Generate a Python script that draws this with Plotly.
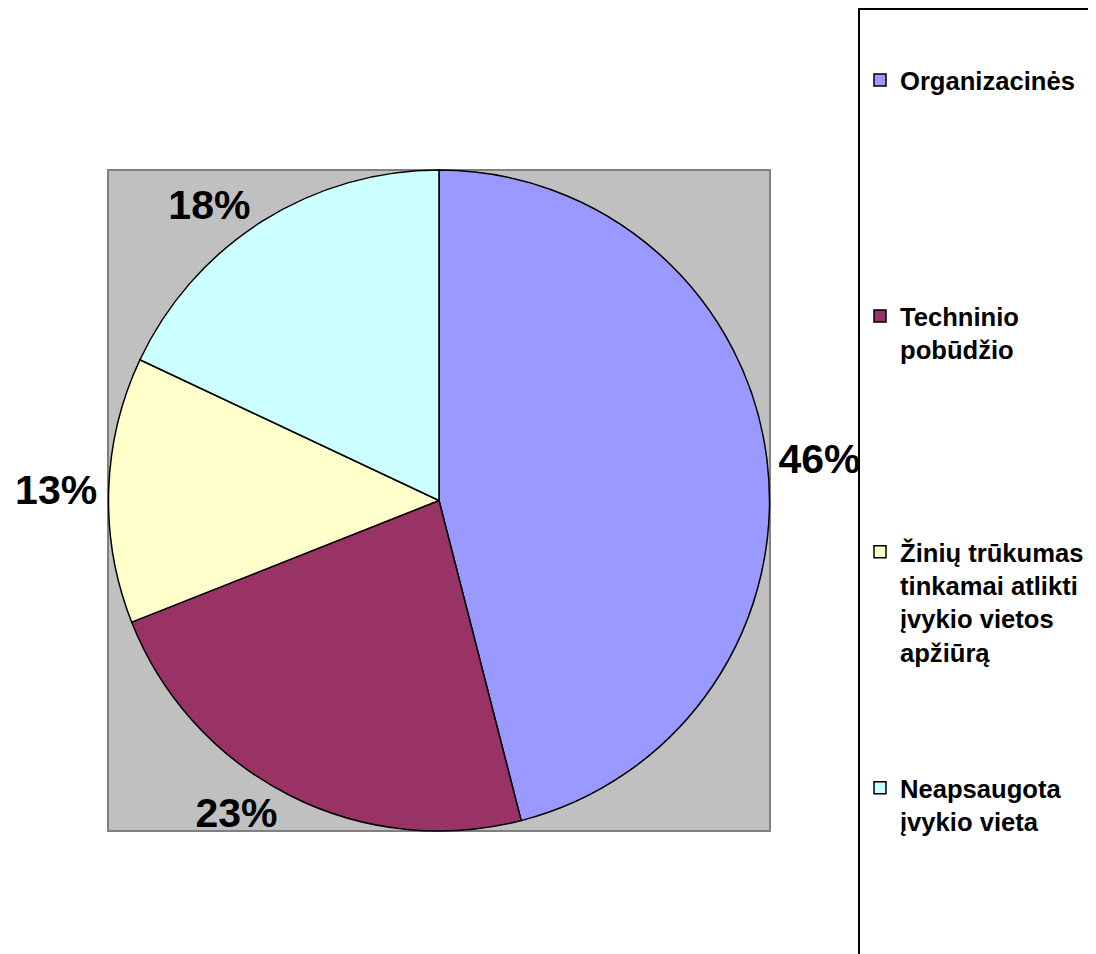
import plotly.graph_objects as go

categories = [
    "Organizacinės",
    "Techninio<br>pobūdžio",
    "Žinių trūkumas<br>tinkamai atlikti<br>įvykio vietos<br>apžiūrą",
    "Neapsaugota<br>įvykio vieta",
]
values = [46, 23, 13, 18]
colors = ["#9999FF", "#993366", "#FFFFCC", "#CCFFFF"]

W, H = 1096, 954
OFF = 8  # default page body margin
LINES_PER_ITEM = 7
NB = "\u00a0"


def pad(label, total):
    n = label.count("<br>") + 1
    return label + ("<br>" + NB) * max(total - n, 0)


def px(x):
    return (x - OFF) / W


def py(y):
    return 1 - (y - OFF) / H


legend_labels = [pad(c, LINES_PER_ITEM) for c in categories]

fig = go.Figure()
fig.add_trace(go.Pie(
    labels=legend_labels,
    values=values,
    sort=False,
    direction="clockwise",
    rotation=0,
    marker=dict(colors=colors, line=dict(color="black", width=1.5)),
    textinfo="percent",
    textposition="outside",
    texttemplate="%{percent:.0%}",
    outsidetextfont=dict(family="Liberation Sans", size=41, color="black", weight="bold"),
    hoverinfo="skip",
    domain=dict(x=[px(108), px(770)], y=[py(831), py(170)]),
))

fig.add_shape(
    type="rect", xref="paper", yref="paper",
    x0=px(108), x1=px(770), y0=py(831), y1=py(170),
    fillcolor="#C0C0C0", line=dict(color="#808080", width=2), layer="below",
)

fig.update_layout(
    width=W, height=H,
    margin=dict(l=0, r=0, t=0, b=0),
    paper_bgcolor="white",
    plot_bgcolor="white",
    showlegend=True,
    legend=dict(
        x=px(858), xanchor="left",
        y=py(12), yanchor="top",
        bordercolor="black", borderwidth=2, bgcolor="white",
        font=dict(family="Liberation Sans", size=25.6, color="black", weight="bold"),
        valign="top",
        title=dict(text=NB, font=dict(family="Liberation Sans", size=36)),
        traceorder="normal",
    ),
)

fig.write_html("out.html")
